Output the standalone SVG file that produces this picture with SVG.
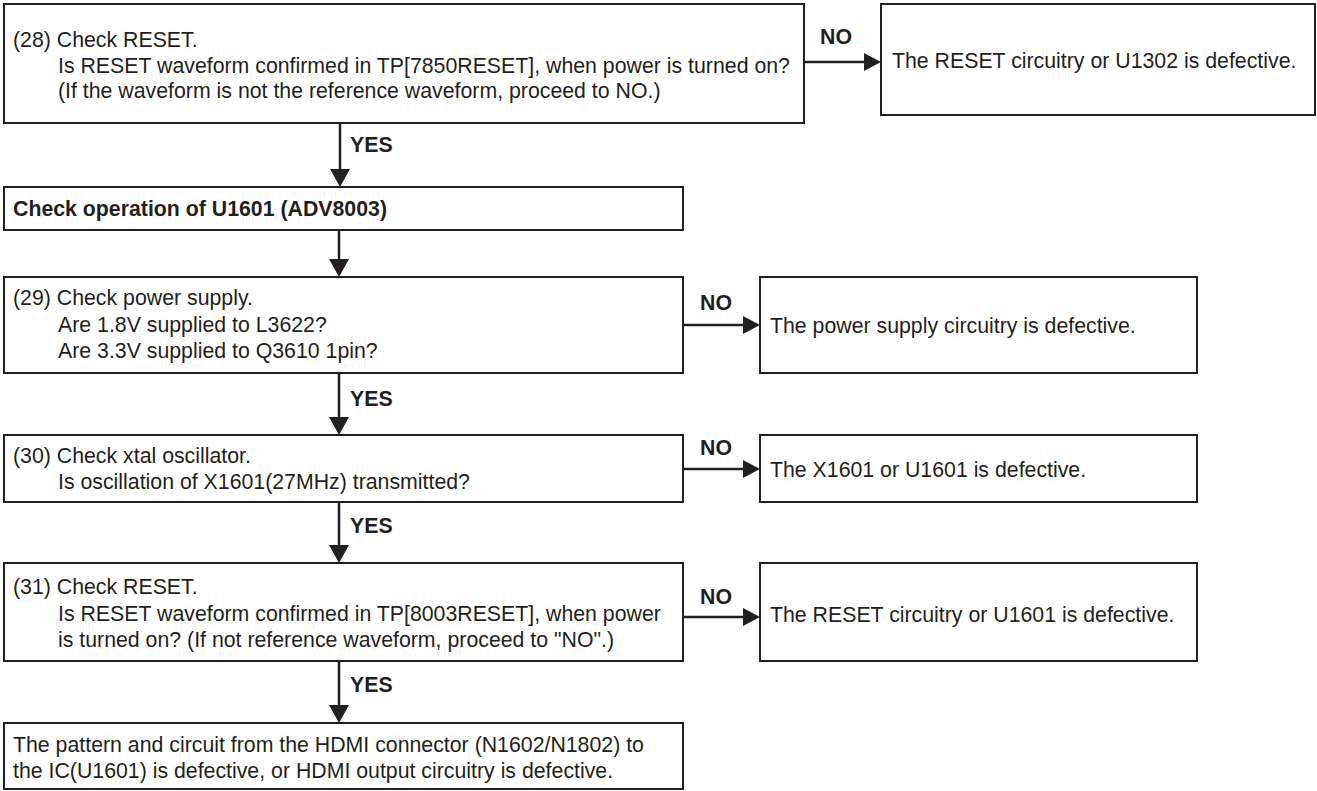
<svg xmlns="http://www.w3.org/2000/svg" width="1317" height="791" viewBox="0 0 1317 791">
<defs>
<style>
.box{fill:#fff;stroke:#231f20;stroke-width:2}
.t{font-family:"Liberation Sans",Arial,sans-serif;font-size:21.3px;fill:#231f20}
.b{font-family:"Liberation Sans",Arial,sans-serif;font-size:21.3px;font-weight:bold;fill:#231f20}
.ln{stroke:#231f20;stroke-width:2.5;fill:none}
.hd{fill:#231f20}
</style>
</defs>
<rect width="1317" height="791" fill="#fff"/>
<g id="connectors">
<line class="ln" x1="804" y1="62" x2="866" y2="62"/><polygon class="hd" points="864,53 881,62 864,71"/>
<text class="b" x="820" y="44">NO</text>
<line class="ln" x1="340" y1="123" x2="340" y2="170"/><polygon class="hd" points="330,169 340,187 350,169"/>
<text class="b" x="350" y="152">YES</text>
<line class="ln" x1="339" y1="230" x2="339" y2="260"/><polygon class="hd" points="329,259 339,277 349,259"/>
<line class="ln" x1="683" y1="325" x2="745" y2="325"/><polygon class="hd" points="743,316 760,325 743,334"/>
<text class="b" x="700" y="310">NO</text>
<line class="ln" x1="339" y1="373" x2="339" y2="418"/><polygon class="hd" points="329,417 339,435 349,417"/>
<text class="b" x="350" y="406">YES</text>
<line class="ln" x1="683" y1="469" x2="745" y2="469"/><polygon class="hd" points="743,460 760,469 743,478"/>
<text class="b" x="700" y="455">NO</text>
<line class="ln" x1="339" y1="502" x2="339" y2="546"/><polygon class="hd" points="329,545 339,563 349,545"/>
<text class="b" x="350" y="533">YES</text>
<line class="ln" x1="683" y1="617" x2="745" y2="617"/><polygon class="hd" points="743,608 760,617 743,626"/>
<text class="b" x="700" y="604">NO</text>
<line class="ln" x1="339" y1="661" x2="339" y2="706"/><polygon class="hd" points="329,705 339,723 349,705"/>
<text class="b" x="350" y="692">YES</text>
</g>
<g id="n28">
<rect class="box" x="4" y="4" width="800" height="119"/>
<text class="t" x="13" y="47">(28) Check RESET.</text>
<text class="t" x="58" y="73">Is RESET waveform confirmed in TP[7850RESET], when power is turned on?</text>
<text class="t" x="58" y="98">(If the waveform is not the reference waveform, proceed to NO.)</text>
</g>
<g id="r28">
<rect class="box" x="881" y="4" width="434" height="111"/>
<text class="t" x="892" y="68">The RESET circuitry or U1302 is defective.</text>
</g>
<g id="op">
<rect class="box" x="4" y="187" width="679" height="43"/>
<text class="b" x="13" y="216">Check operation of U1601 (ADV8003)</text>
</g>
<g id="n29">
<rect class="box" x="4" y="277" width="679" height="96"/>
<text class="t" x="13" y="305">(29) Check power supply.</text>
<text class="t" x="58" y="332">Are 1.8V supplied to L3622?</text>
<text class="t" x="58" y="358">Are 3.3V supplied to Q3610 1pin?</text>
</g>
<g id="r29">
<rect class="box" x="760" y="277" width="437" height="96"/>
<text class="t" x="770" y="333">The power supply circuitry is defective.</text>
</g>
<g id="n30">
<rect class="box" x="4" y="435" width="679" height="67"/>
<text class="t" x="13" y="463">(30) Check xtal oscillator.</text>
<text class="t" x="58" y="489">Is oscillation of X1601(27MHz) transmitted?</text>
</g>
<g id="r30">
<rect class="box" x="760" y="435" width="437" height="67"/>
<text class="t" x="770" y="477">The X1601 or U1601 is defective.</text>
</g>
<g id="n31">
<rect class="box" x="4" y="563" width="679" height="98"/>
<text class="t" x="13" y="594">(31) Check RESET.</text>
<text class="t" x="58" y="621">Is RESET waveform confirmed in TP[8003RESET], when power</text>
<text class="t" x="58" y="647">is turned on? (If not reference waveform, proceed to "NO".)</text>
</g>
<g id="r31">
<rect class="box" x="760" y="563" width="437" height="98"/>
<text class="t" x="770" y="622">The RESET circuitry or U1601 is defective.</text>
</g>
<g id="end">
<rect class="box" x="4" y="723" width="679" height="66"/>
<text class="t" x="13" y="752">The pattern and circuit from the HDMI connector (N1602/N1802) to</text>
<text class="t" x="13" y="778">the IC(U1601) is defective, or HDMI output circuitry is defective.</text>
</g>
</svg>
